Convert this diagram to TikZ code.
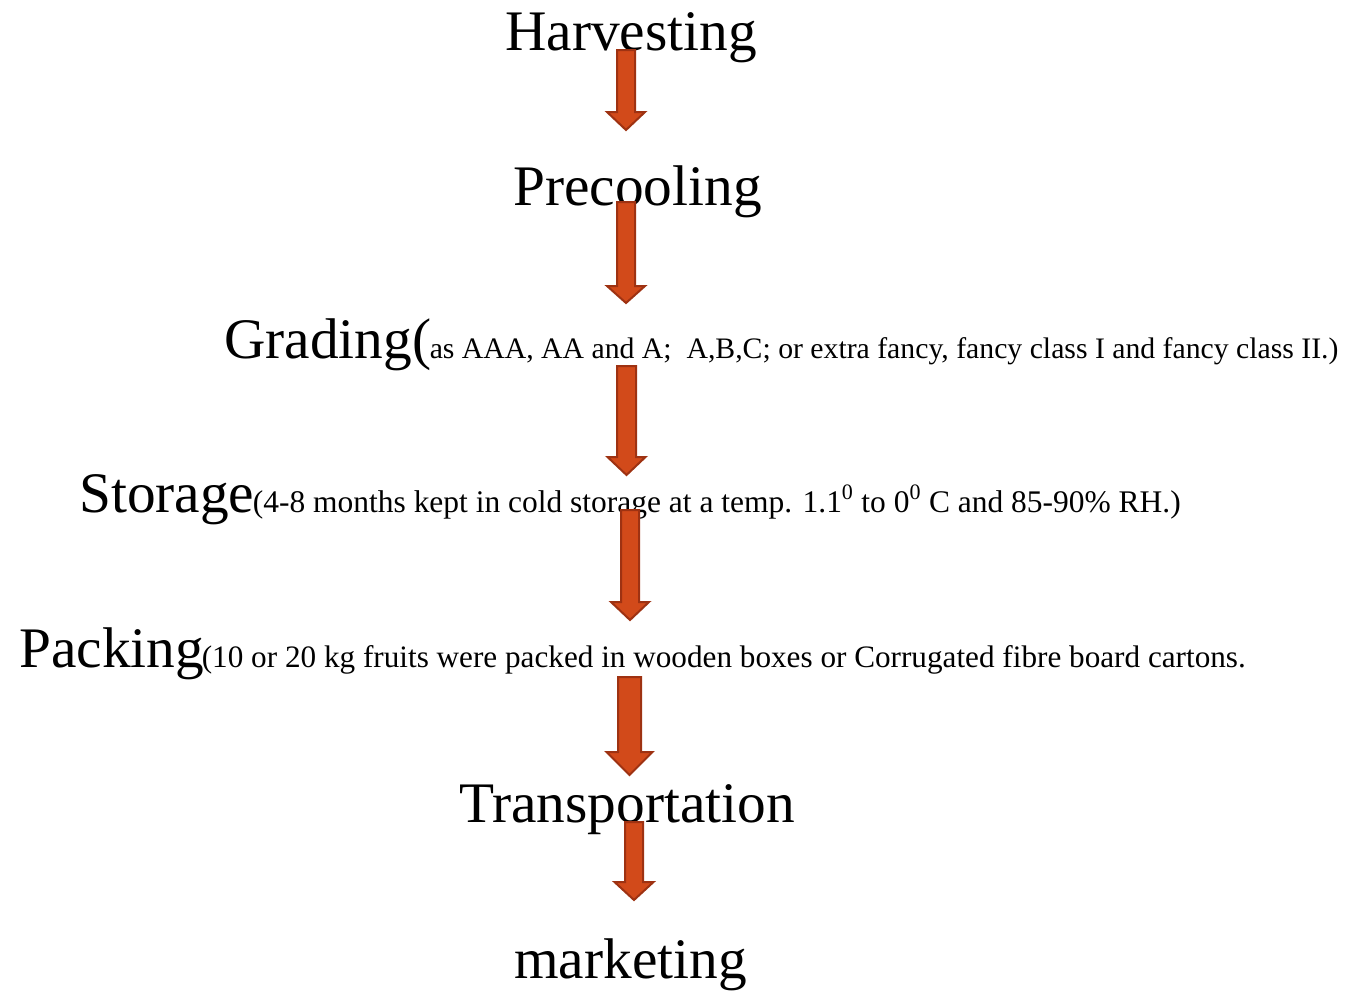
\documentclass[tikz,border=0pt]{standalone}
\usepackage{fontspec}
\setmainfont{Liberation Serif}
\usetikzlibrary{calc}
\definecolor{arrowfill}{HTML}{D24A1A}
\definecolor{arrowedge}{HTML}{9E3212}
\tikzset{
  steptext/.style={anchor=base west, inner sep=0pt, font=\fontsize{43}{50}\selectfont},
  notetext/.style={anchor=base west, inner sep=0pt, font=\fontsize{#1}{#1}\selectfont},
  notetext/.default=22,
  blockarrow/.style={fill=arrowfill, draw=arrowedge, line width=1.5pt, line join=miter}
}
% block arrow pointing down: top centre, tip, half shaft width, half head width, head length
\newcommand\downblock[5]{%
  \draw[blockarrow]
    ($(#1)+(-#3,0)$) -- ($(#1)+(#3,0)$) -- ($(#2)+(#3,-#5)$) -- ($(#2)+(#4,-#5)$)
    -- (#2) -- ($(#2)+(-#4,-#5)$) -- ($(#2)+(-#3,-#5)$) -- cycle;}
\begin{document}
\begin{tikzpicture}[x=0.75pt, y=-0.75pt]
  \useasboundingbox (0,0) rectangle (1345,996);

  % process steps
  \node[steptext] (harv)  at (505,50)  {Harvesting};
  \node[steptext] (prec)  at (513,205) {Precooling};
  \node[steptext] (grad)  at (224,358) {Grading(};
  \node[notetext=22.3] (gradnote) at ([xshift=-1.5pt]grad.base east)
    {as AAA, AA and A;~ A,B,C; or extra fancy, fancy class I and fancy class II.)};
  \node[steptext] (stor)  at (79,512)  {Storage};
  \node[notetext=23.6] (stornote) at ([xshift=-1.5pt]stor.base east)
    {(4-8 months kept in cold storage at a temp. 1.1\textsuperscript{0} to 0\textsuperscript{0} C and 85-90\% RH.)};
  \node[steptext] (pack)  at (19,667)  {Packing};
  \node[notetext=23.4] (packnote) at ([xshift=-2pt]pack.base east)
    {(10 or 20 kg fruits were packed in wooden boxes or Corrugated fibre board cartons.};
  \node[steptext] (trans) at (459,822) {Transportation};
  \node[steptext] (mark)  at (514,978) {marketing};

  % arrow end points
  \coordinate (a1s) at (626,50);   \coordinate (a1e) at (626,130);
  \coordinate (a2s) at (626,202);  \coordinate (a2e) at (626,303);
  \coordinate (a3s) at (626.5,366);\coordinate (a3e) at (626.5,475);
  \coordinate (a4s) at (630,510);  \coordinate (a4e) at (630,620);
  \coordinate (a5s) at (629.5,677);\coordinate (a5e) at (629.5,775);
  \coordinate (a6s) at (634,822);  \coordinate (a6e) at (634,900);

  % arrows between steps
  \downblock{a1s}{a1e}{9}{19}{18}
  \downblock{a2s}{a2e}{9}{19}{17}
  \downblock{a3s}{a3e}{9.5}{19}{18}
  \downblock{a4s}{a4e}{9}{19}{18}
  \downblock{a5s}{a5e}{11.5}{23}{23}
  \downblock{a6s}{a6e}{9}{19.5}{18}
\end{tikzpicture}
\end{document}
